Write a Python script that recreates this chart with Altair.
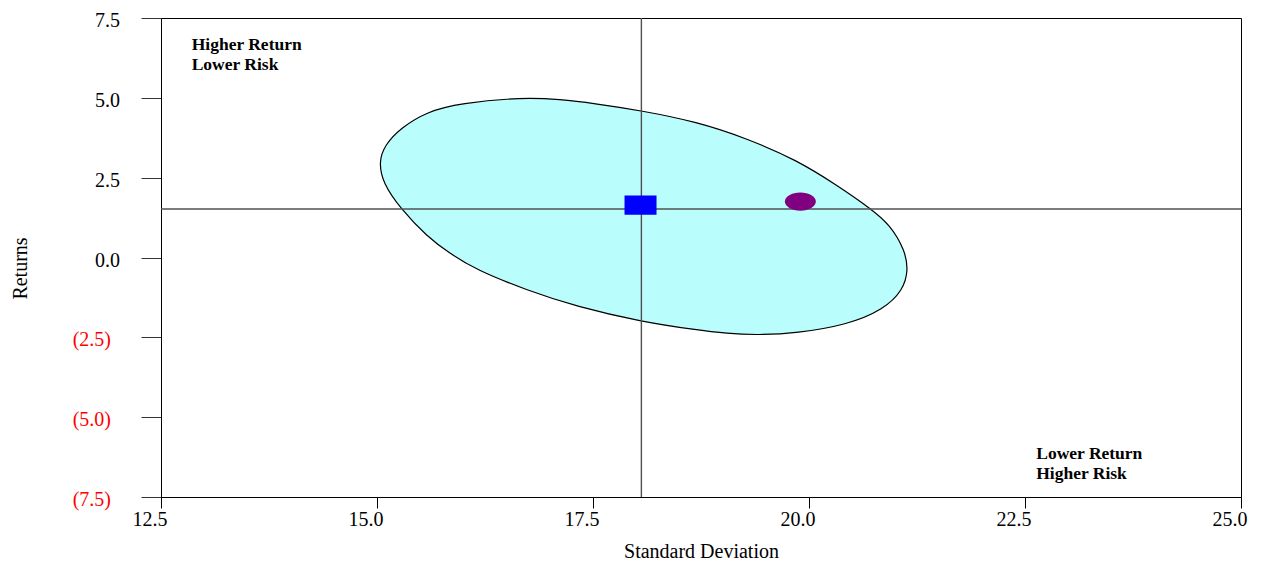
import altair as alt
import pandas as pd

# Ellipse outline points (Standard Deviation, Returns)
ellipse_x = [15.02, 15.09, 15.27, 15.58, 15.96, 16.69, 17.12, 17.50, 18.06, 18.70,
             19.28, 19.86, 20.32, 20.71, 20.94, 21.11, 21.15, 21.09, 20.86, 20.44,
             19.86, 19.39, 19.05, 18.70, 18.06, 17.31, 16.73, 16.15, 15.84, 15.58,
             15.27, 15.07]
ellipse_y = [3.00, 3.52, 4.05, 4.57, 4.83, 5.02, 4.95, 4.83, 4.60, 4.25,
             3.73, 3.05, 2.27, 1.54, 1.02, 0.23, -0.39, -1.02, -1.64, -2.11,
             -2.37, -2.43, -2.38, -2.27, -2.01, -1.54, -1.02, -0.39, 0.13, 0.65,
             1.54, 2.32]

# Cross-hair reference lines
cross_x = [18.06]
cross_y = [1.52]

# Markers
square_x = [18.05]
square_y = [1.64]
dot_x = [19.90]
dot_y = [1.75]

# Quadrant annotations
note_text = ["Higher Return\nLower Risk", "Lower Return\nHigher Risk"]
note_x = [12.855, 22.63]
note_y = [6.51, -6.32]

x_ticks = [12.5, 15.0, 17.5, 20.0, 22.5, 25.0]
x_tick_labels = ["12.5", "15.0", "17.5", "20.0", "22.5", "25.0"]
y_ticks = [-7.5, -5.0, -2.5, 0.0, 2.5, 5.0, 7.5]
y_tick_labels = ["(7.5)", "(5.0)", "(2.5)", "0.0", "2.5", "5.0", "7.5"]

FONT = "Liberation Serif"

x_scale = alt.Scale(domain=[12.5, 25.0], nice=False, zero=False)
y_scale = alt.Scale(domain=[-7.5, 7.5], nice=False, zero=False)

x_axis = alt.Axis(
    values=x_ticks, labels=False, grid=False,
    title="Standard Deviation", titleFont=FONT, titleFontSize=20,
    titleFontWeight="normal", titleColor="black",
    titleX=540, titleY=60, titleBaseline="alphabetic", titleAlign="center",
    tickSize=11, tickColor="black", domainColor="black",
)
y_axis = alt.Axis(
    values=y_ticks, labels=False, grid=False,
    title="Returns", titleFont=FONT, titleFontSize=20,
    titleFontWeight="normal", titleColor="black",
    titleX=-135, titleY=250, titleBaseline="alphabetic", titleAlign="center",
    titleAngle=270,
    tickSize=20, tickColor="#333333", domainColor="black",
)

ell_df = pd.DataFrame({"sd": ellipse_x, "ret": ellipse_y, "i": list(range(len(ellipse_x)))})
ellipse = alt.Chart(ell_df).mark_line(
    interpolate="basis-closed", fill="#bafdfd", stroke="black", strokeWidth=1.2
).encode(
    x=alt.X("sd:Q", scale=x_scale, axis=x_axis),
    y=alt.Y("ret:Q", scale=y_scale, axis=y_axis),
    order=alt.Order("i:Q"),
)

vline = alt.Chart(pd.DataFrame({"sd": cross_x})).mark_rule(
    color="#505050", strokeWidth=1.4
).encode(x=alt.X("sd:Q", scale=x_scale))
hline = alt.Chart(pd.DataFrame({"ret": cross_y})).mark_rule(
    color="#505050", strokeWidth=1.4
).encode(y=alt.Y("ret:Q", scale=y_scale))

square = alt.Chart(pd.DataFrame({"sd": square_x, "ret": square_y})).mark_point(
    shape="M-1,-0.6H1V0.6H-1Z", filled=True, size=1024, color="#0000ff", opacity=1
).encode(x=alt.X("sd:Q", scale=x_scale), y=alt.Y("ret:Q", scale=y_scale))

dot = alt.Chart(pd.DataFrame({"sd": dot_x, "ret": dot_y})).mark_point(
    shape="M-1,0A1,0.59,0,1,0,1,0A1,0.59,0,1,0,-1,0Z", filled=True, size=961,
    color="#800080", opacity=1
).encode(x=alt.X("sd:Q", scale=x_scale), y=alt.Y("ret:Q", scale=y_scale))

notes = alt.Chart(pd.DataFrame({"sd": note_x, "ret": note_y, "txt": note_text})).mark_text(
    align="left", baseline="alphabetic", lineBreak="\n", font=FONT,
    fontWeight="bold", fontSize=17.5, lineHeight=20, color="black"
).encode(
    x=alt.X("sd:Q", scale=x_scale), y=alt.Y("ret:Q", scale=y_scale), text="txt:N"
)

# x tick labels (the original sets them slightly left of each tick)
xlab_df = pd.DataFrame({"sd": x_ticks, "ret": [-7.5] * len(x_ticks), "lab": x_tick_labels})
xlabels = alt.Chart(xlab_df).mark_text(
    align="center", baseline="top", dx=-11, dy=13, font=FONT, fontSize=20, color="black"
).encode(
    x=alt.X("sd:Q", scale=x_scale), y=alt.Y("ret:Q", scale=y_scale), text="lab:N"
)

# y tick labels: positives in black, negatives in red parentheses
ylab_df = pd.DataFrame({"sd": [12.5] * len(y_ticks), "ret": y_ticks, "lab": y_tick_labels})
ylab_base = alt.Chart(ylab_df).encode(
    x=alt.X("sd:Q", scale=x_scale), y=alt.Y("ret:Q", scale=y_scale), text="lab:N"
)
ylabels_pos = ylab_base.transform_filter("datum.ret >= 0").mark_text(
    align="right", baseline="middle", dx=-41, dy=3, font=FONT, fontSize=20, color="black"
)
ylabels_neg = ylab_base.transform_filter("datum.ret < 0").mark_text(
    align="right", baseline="middle", dx=-50, dy=3, font=FONT, fontSize=20, color="#ff0000"
)

chart = alt.layer(ellipse, vline, hline, square, dot, notes, xlabels,
                  ylabels_pos, ylabels_neg).properties(
    width=1080, height=479,
    autosize=alt.AutoSizeParams(type="none"),
    padding={"left": 153, "top": 10, "right": 12, "bottom": 66},
    background="white",
).configure_view(stroke="black", strokeWidth=1)

chart.save("out.html", embed_options={"renderer": "svg", "actions": False})
